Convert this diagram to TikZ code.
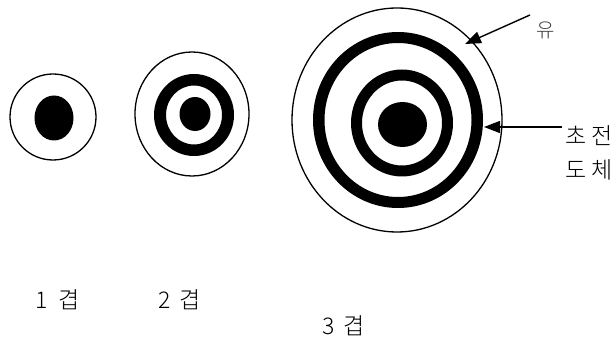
\documentclass[tikz,border=0pt]{standalone}
\usepackage{fontspec}
\newfontfamily\kr{Noto Sans CJK KR}[UprightFont={* Light}]
\usetikzlibrary{arrows.meta}
\begin{document}
\begin{tikzpicture}[x=1pt,y=-1pt,
  outer/.style={draw=black,line width=1.3pt},
  blackfill/.style={fill=black},
  lbl/.style={font=\kr\fontsize{23}{25}\selectfont,inner sep=0pt},
  ptr/.style={line width=1.4pt,-{Triangle[length=16pt,width=12pt]}}]
\useasboundingbox (0,0) rectangle (612,347);
% 1 layer
\draw[outer] (53,117) ellipse [x radius=43,y radius=43];
\fill[blackfill] (54,118) ellipse [x radius=19.5,y radius=22.5];
% 2 layers
\draw[outer] (192,114) ellipse [x radius=57,y radius=62];
\fill[blackfill,even odd rule] (194,115) ellipse [x radius=40,y radius=41]
   (194,115) ellipse [x radius=28,y radius=29.5];
\fill[blackfill] (195,114) ellipse [x radius=15.5,y radius=17];
% 3 layers
\draw[outer] (397,120) ellipse [x radius=105,y radius=112];
\fill[blackfill,even odd rule] (398,120) ellipse [x radius=85,y radius=88]
   (398,120) ellipse [x radius=73.5,y radius=77];
\fill[blackfill,even odd rule] (402,123) ellipse [x radius=51,y radius=53.5]
   (402,123) ellipse [x radius=40,y radius=42.5];
\fill[blackfill] (402.5,124.5) ellipse [x radius=24.5,y radius=22.5];
% pointers
\coordinate (a1s) at (530,15);
\coordinate (a1e) at (465,44);
\draw[ptr] (a1s) -- (a1e);
\coordinate (a2s) at (562,127);
\coordinate (a2e) at (484,127);
\draw[ptr] (a2s) -- (a2e);
% labels
\node[lbl,anchor=west,text=black!75,font=\kr\fontsize{20}{22}\selectfont] (yu) at (536,30) {유};
\node[lbl,anchor=west] (sc1) at (565,136) {초\hspace{5pt}전};
\node[lbl,anchor=west] (sc2) at (565,170) {도\hspace{5pt}체};
\node[lbl,anchor=west] (l1) at (35,300) {1\hspace{11pt}겹};
\node[lbl,anchor=west] (l2) at (158,300) {2\hspace{9pt}겹};
\node[lbl,anchor=west] (l3) at (322,326) {3\hspace{9pt}겹};
\end{tikzpicture}
\end{document}
